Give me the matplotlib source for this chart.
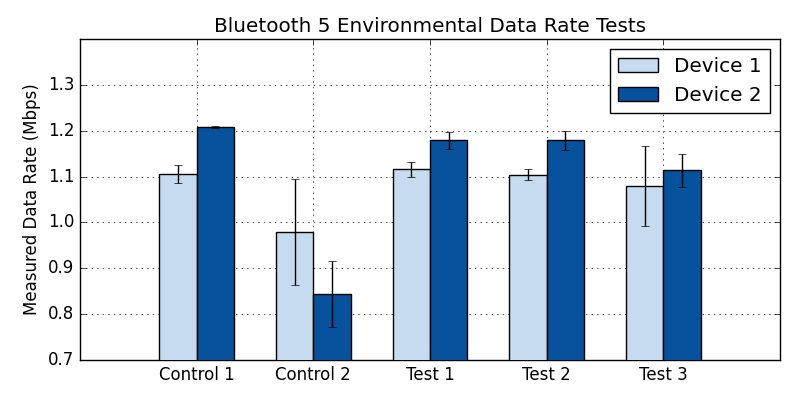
import matplotlib
matplotlib.use("Agg")
import matplotlib.pyplot as plt
import numpy as np

plt.style.use("classic")

# ── data ─────────────────────────────────────────────────────────────────────
categories = ["Control 1", "Control 2", "Test 1", "Test 2", "Test 3"]
device1 = [1.106, 0.979, 1.116, 1.104, 1.080]
device1_err = [0.020, 0.116, 0.016, 0.012, 0.087]
device2 = [1.208, 0.844, 1.179, 1.179, 1.114]
device2_err = [0.002, 0.071, 0.018, 0.020, 0.036]

LIGHT = "#c6dbef"
DARK = "#08519c"

fig, ax = plt.subplots(figsize=(8, 4), dpi=100)
fig.subplots_adjust(left=0.1, right=0.975, top=0.9025, bottom=0.1)

x = np.arange(1, len(categories) + 1)
w = 0.32

ax.bar(x - w / 2, device1, w, yerr=device1_err, color=LIGHT, edgecolor="black",
       ecolor="black", capsize=3, label="Device 1", zorder=3)
ax.bar(x + w / 2, device2, w, yerr=device2_err, color=DARK, edgecolor="black",
       ecolor="black", capsize=3, label="Device 2", zorder=3)

ax.set_xticks(x)
ax.set_xticklabels(categories)
ax.set_xlim(0, len(categories) + 1)
ax.set_ylim(0.7, 1.4)
ax.set_yticks(np.arange(0.7, 1.35, 0.1))
ax.set_ylabel("Measured Data Rate (Mbps)")
ax.set_title("Bluetooth 5 Environmental Data Rate Tests")
ax.grid(True)
ax.set_axisbelow(True)
ax.legend(loc="upper right")

fig.savefig("out.png", dpi=100)
